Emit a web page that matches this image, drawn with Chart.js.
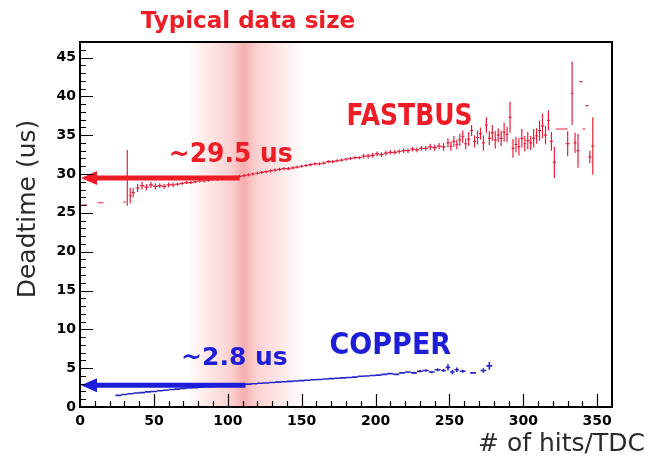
<!DOCTYPE html>
<html>
<head>
<meta charset="utf-8">
<title>Deadtime vs hits/TDC</title>
<script src="https://cdn.jsdelivr.net/npm/chart.js@4.4.0/dist/chart.umd.min.js"></script>
<style>
  html, body { margin: 0; padding: 0; background: #fff; }
</style>
</head>
<body>
<canvas id="deadtime" width="660" height="457"></canvas>
<script>
// FASTBUS deadtime (us) vs # of hits/TDC, with y errors
const fbX = [3, 14, 30, 32, 34, 36, 39, 42, 45, 48, 51, 54, 57, 60, 63, 66, 69, 72, 75, 78, 81, 84, 87, 90, 93, 96, 99,
  102, 105, 108, 111, 114, 117, 120, 123, 126, 129, 132, 135, 138, 141, 144, 147, 150, 153, 156, 159, 162, 165, 168,
  171, 174, 177, 180, 183, 186, 189, 192, 195, 198, 201, 204, 207, 210, 213, 216, 219, 222, 225, 228, 231, 234, 237,
  240, 243, 246, 249, 251, 253, 255, 257, 259, 261, 263, 265, 267, 269, 271, 273, 275, 277, 279, 281, 283, 285, 287,
  289, 291, 293, 295, 297, 299, 301, 303, 305, 307, 309, 311, 313, 315, 317, 319, 321, 326, 330, 333, 335, 337, 339,
  341, 343, 345, 347];
const fbY = [26.0, 26.3, 26.4, 29.5, 27.2, 27.6, 28.2, 28.5, 28.3, 28.6, 28.4, 28.5, 28.4, 28.6, 28.6, 28.7, 28.8, 28.9,
  28.9, 29.0, 29.1, 29.1, 29.2, 29.3, 29.3, 29.4, 29.5, 29.5, 29.6, 29.7, 29.8, 29.9, 30.0, 30.1, 30.2, 30.3, 30.4,
  30.5, 30.6, 30.7, 30.7, 30.8, 30.9, 31.0, 31.1, 31.2, 31.3, 31.3, 31.4, 31.6, 31.6, 31.7, 31.8, 31.9, 32.0, 32.1,
  32.1, 32.3, 32.3, 32.4, 32.6, 32.5, 32.7, 32.8, 32.8, 32.9, 33.0, 33.0, 33.2, 33.1, 33.3, 33.3, 33.5, 33.4, 33.6,
  33.5, 34.0, 33.6, 34.2, 33.8, 34.4, 34.8, 33.9, 34.5, 35.6, 34.2, 34.7, 35.2, 34.0, 36.3, 34.6, 35.3, 34.4, 35.0,
  34.6, 35.4, 35.1, 37.3, 33.3, 33.8, 33.5, 34.6, 33.9, 34.3, 34.0, 34.6, 34.9, 35.6, 36.2, 35.0, 36.9, 34.2, 31.5,
  35.8, 33.9, 40.4, 34.0, 33.0, 41.9, 35.8, 38.8, 32.2, 33.6];
const fbErr = [0, 0, 0, 3.6, 1.0, 0.6, 0.5, 0.5, 0.4, 0.4, 0.4, 0.3, 0.3, 0.3, 0.3, 0.2, 0.2, 0.2, 0.2, 0.2, 0.2, 0.2,
  0.2, 0.2, 0.2, 0.2, 0.2, 0.2, 0.2, 0.2, 0.2, 0.2, 0.2, 0.2, 0.2, 0.2, 0.2, 0.2, 0.2, 0.2, 0.2, 0.2, 0.2, 0.2, 0.2,
  0.2, 0.2, 0.2, 0.2, 0.2, 0.2, 0.2, 0.2, 0.2, 0.2, 0.2, 0.2, 0.3, 0.3, 0.3, 0.3, 0.3, 0.3, 0.3, 0.3, 0.3, 0.3, 0.3,
  0.3, 0.3, 0.3, 0.3, 0.4, 0.4, 0.4, 0.5, 0.6, 0.6, 0.7, 0.6, 0.8, 0.8, 0.7, 0.9, 0.7, 0.8, 0.9, 0.8, 1.0, 1.0, 0.9,
  1.0, 1.1, 0.9, 1.0, 1.2, 1.0, 2.0, 1.2, 1.0, 1.1, 1.2, 1.0, 1.1, 0.9, 1.2, 1.0, 1.3, 1.6, 1.2, 1.3, 1.2, 2.0, 0,
  1.6, 4.1, 1.3, 2.2, 0, 0, 0, 0.8, 3.7];

// COPPER deadtime (us) vs # of hits/TDC
const cuX = [26, 30, 34, 38, 42, 46, 50, 54, 58, 62, 66, 70, 74, 78, 82, 86, 90, 94, 98, 102, 106, 110, 114, 118, 122,
  126, 130, 134, 138, 142, 146, 150, 154, 158, 162, 166, 170, 174, 178, 182, 186, 190, 194, 198, 202, 206, 210, 214,
  218, 222, 226, 230, 234, 238, 242, 246, 249, 252, 255, 259, 266, 273, 277];
const cuY = [1.5, 1.6, 1.7, 1.8, 1.85, 1.95, 2.0, 2.1, 2.15, 2.25, 2.3, 2.4, 2.45, 2.5, 2.55, 2.6, 2.65, 2.7, 2.75, 2.8,
  2.85, 2.9, 2.95, 3.0, 3.05, 3.1, 3.15, 3.2, 3.25, 3.3, 3.35, 3.4, 3.45, 3.5, 3.55, 3.6, 3.65, 3.7, 3.75, 3.8, 3.85,
  3.95, 4.0, 4.05, 4.1, 4.2, 4.3, 4.2, 4.4, 4.5, 4.4, 4.6, 4.7, 4.5, 4.8, 4.7, 5.1, 4.5, 4.8, 4.6, 4.4, 4.7, 5.3];
const cuErr = [0, 0, 0, 0, 0, 0, 0, 0, 0, 0, 0, 0, 0, 0, 0, 0, 0, 0, 0, 0, 0, 0, 0, 0, 0, 0, 0, 0, 0, 0, 0, 0, 0, 0,
  0, 0, 0, 0, 0, 0, 0, 0.05, 0.05, 0.05, 0.05, 0.1, 0.1, 0.1, 0.1, 0.1, 0.15, 0.15, 0.15, 0.15, 0.2, 0.2, 0.4, 0.3,
  0.3, 0.2, 0, 0.3, 0.5];

// axis ranges / ticks
const xMax = 360;
const yMax = 47;
const xStep = 50;
const yStep = 5;

// "typical data size" band and the two arrows (hits/TDC, us)
const bandFrom = 72;
const bandTo = 153;
const arrowY = [29.5, 2.8];
const arrowTo = [108, 112];

const red = '#ee1c25';
const blue = '#1e1ed8';

// annotation texts, anchored in data coords (center x, baseline y)
const notes = [
  {text: '~29.5 us', x: 102, y: 31.5, color: red, size: 25, sy: 1.05},
  {text: 'FASTBUS', x: 223, y: 36.3, color: red, size: 25, sy: 1.18},
  {text: '~2.8 us', x: 104.5, y: 5.4, color: blue, size: 25, sy: 1.0},
  {text: 'COPPER', x: 210, y: 6.8, color: blue, size: 27, sy: 1.1}
];

const toPoints = (xs, ys) => xs.map((v, i) => ({x: v, y: ys[i]}));

// draw each point as a small horizontal bin bar + vertical error bar
function drawErrors(ctx, xs, ys, errs, x, y, color, lw) {
  ctx.save();
  ctx.strokeStyle = color;
  ctx.lineWidth = lw;
  ctx.beginPath();
  for (let i = 0; i < xs.length; i++) {
    // half bin width = half the gap to the nearest neighbour, max 2
    let half = 2;
    if (i > 0) half = Math.min(half, (xs[i] - xs[i - 1]) / 2);
    if (i < xs.length - 1) half = Math.min(half, (xs[i + 1] - xs[i]) / 2);
    if (xs[i] === 326) half = 4;  // the one wide bin
    const px = x.getPixelForValue(xs[i]);
    const py = y.getPixelForValue(ys[i]);
    const hw = Math.max(x.getPixelForValue(xs[i] + half) - px, 1);
    ctx.moveTo(px - hw, py);
    ctx.lineTo(px + hw, py);
    if (errs[i] > 0) {
      ctx.moveTo(px, y.getPixelForValue(ys[i] + errs[i]));
      ctx.lineTo(px, y.getPixelForValue(ys[i] - errs[i]));
    }
  }
  ctx.stroke();
  ctx.restore();
}

function drawArrow(ctx, x0, x1, yy, color) {
  ctx.save();
  ctx.strokeStyle = color;
  ctx.fillStyle = color;
  ctx.lineWidth = 5;
  ctx.beginPath();
  ctx.moveTo(x1, yy);
  ctx.lineTo(x0 + 12, yy);
  ctx.stroke();
  ctx.beginPath();
  ctx.moveTo(x0 + 1, yy);
  ctx.lineTo(x0 + 17, yy - 7);
  ctx.lineTo(x0 + 17, yy + 7);
  ctx.closePath();
  ctx.fill();
  ctx.restore();
}

const overlay = {
  id: 'overlay',
  beforeDatasetsDraw(chart) {
    const {ctx, chartArea: a, scales: {x}} = chart;
    const l = x.getPixelForValue(bandFrom);
    const r = x.getPixelForValue(bandTo);
    const g = ctx.createLinearGradient(l, 0, r, 0);
    g.addColorStop(0, 'rgba(244,90,90,0)');
    g.addColorStop(0.18, 'rgba(244,90,90,0.14)');
    g.addColorStop(0.38, 'rgba(240,70,70,0.26)');
    g.addColorStop(0.48, 'rgba(236,60,60,0.42)');
    g.addColorStop(0.58, 'rgba(240,70,70,0.26)');
    g.addColorStop(0.8, 'rgba(244,90,90,0.13)');
    g.addColorStop(1, 'rgba(244,90,90,0)');
    ctx.save();
    ctx.fillStyle = g;
    ctx.fillRect(l, a.top, r - l, a.bottom - a.top);
    ctx.restore();
  },
  afterDatasetsDraw(chart) {
    const {ctx, chartArea: a, scales: {x, y}} = chart;
    drawErrors(ctx, fbX, fbY, fbErr, x, y, '#e3203c', 1.2);
    drawErrors(ctx, cuX, cuY, cuErr, x, y, '#2626c8', 1.6);
    drawArrow(ctx, a.left, x.getPixelForValue(arrowTo[0]), y.getPixelForValue(arrowY[0]), red);
    drawArrow(ctx, a.left, x.getPixelForValue(arrowTo[1]), y.getPixelForValue(arrowY[1]), blue);
  },
  afterDraw(chart) {
    const {ctx, chartArea: a, scales: {x, y}} = chart;
    ctx.save();
    // frame
    ctx.strokeStyle = '#000';
    ctx.lineWidth = 2;
    ctx.strokeRect(a.left, a.top, a.right - a.left, a.bottom - a.top);
    // inner ticks, ROOT style
    ctx.lineWidth = 1.2;
    ctx.beginPath();
    for (let v = 0; v <= yMax; v++) {
      const py = Math.round(y.getPixelForValue(v)) + 0.5;
      const len = v % yStep === 0 ? 13 : 6;
      ctx.moveTo(a.left, py);
      ctx.lineTo(a.left + len, py);
    }
    for (let v = 0; v <= xMax; v += 10) {
      const px = Math.round(x.getPixelForValue(v)) + 0.5;
      const len = v % xStep === 0 ? 13 : 6;
      ctx.moveTo(px, a.bottom);
      ctx.lineTo(px, a.bottom - len);
    }
    ctx.stroke();

    // annotations
    ctx.textAlign = 'center';
    ctx.textBaseline = 'alphabetic';
    notes.forEach(n => {
      ctx.save();
      ctx.translate(x.getPixelForValue(n.x), y.getPixelForValue(n.y));
      ctx.scale(1, n.sy);
      ctx.fillStyle = n.color;
      ctx.font = 'bold ' + n.size + 'px "DejaVu Sans"';
      ctx.fillText(n.text, 0, 0);
      ctx.restore();
    });

    // title over the band
    ctx.fillStyle = red;
    ctx.font = 'bold 23px "DejaVu Sans"';
    ctx.fillText('Typical data size', 248, 28);

    // axis titles
    ctx.fillStyle = '#2a2a2a';
    ctx.font = '25px "DejaVu Sans"';
    ctx.textAlign = 'right';
    ctx.fillText('# of hits/TDC', 645, 451);
    ctx.save();
    ctx.translate(35, 209);
    ctx.rotate(-Math.PI / 2);
    ctx.textAlign = 'center';
    ctx.fillText('Deadtime (us)', 0, 0);
    ctx.restore();
    ctx.restore();
  }
};

const ctx = document.querySelector('#deadtime');

const tickFont = {family: '"DejaVu Sans"', size: 14, weight: 'bold'};

const deadtimeChart = new Chart(ctx, {
  type: 'scatter',
  data: {
    datasets: [
      {label: 'FASTBUS', data: toPoints(fbX, fbY), pointRadius: 0, borderColor: '#e3203c'},
      {label: 'COPPER', data: toPoints(cuX, cuY), pointRadius: 0, borderColor: '#2626c8'}
    ]
  },
  options: {
    responsive: false,
    animation: false,
    layout: {padding: {top: 42, right: 48, left: 0, bottom: 0}},
    plugins: {legend: {display: false}, tooltip: {enabled: false}},
    scales: {
      x: {
        type: 'linear',
        min: 0,
        max: xMax,
        grid: {display: false, drawTicks: false},
        border: {display: false},
        ticks: {stepSize: xStep, includeBounds: false, color: '#000', font: tickFont, padding: 6,
          maxRotation: 0, autoSkip: false},
        afterFit: s => { s.height = 50; }
      },
      y: {
        type: 'linear',
        min: 0,
        max: yMax,
        grid: {display: false, drawTicks: false},
        border: {display: false},
        ticks: {stepSize: yStep, includeBounds: false, color: '#000', font: tickFont, padding: 4},
        afterFit: s => { s.width = 80; }
      }
    }
  },
  plugins: [overlay]
});
</script>
</body>
</html>
